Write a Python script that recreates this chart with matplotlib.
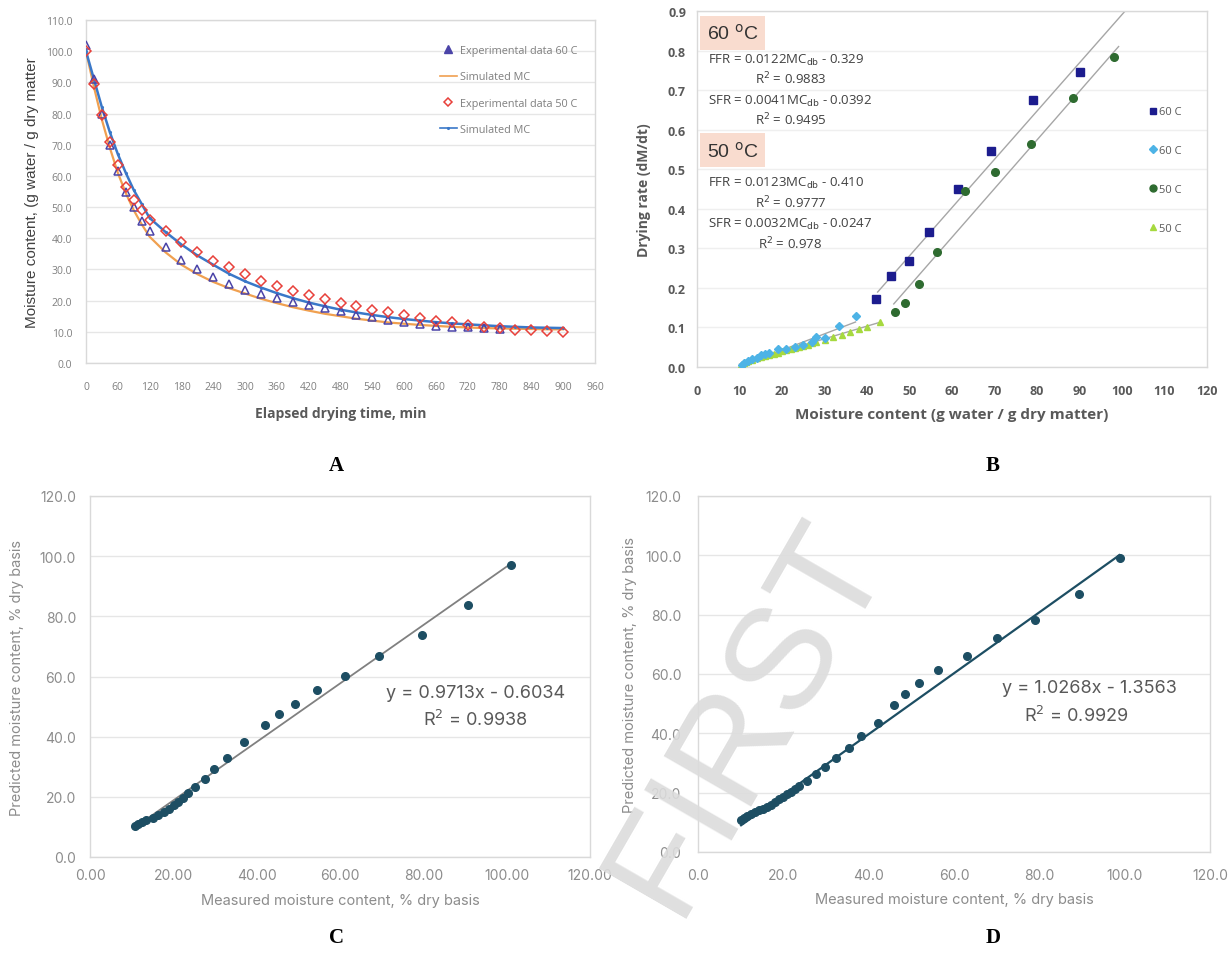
import matplotlib
matplotlib.use('Agg')
import matplotlib.pyplot as plt
from matplotlib import font_manager
from matplotlib.lines import Line2D
import numpy as np

avail = set(font_manager.get_font_names())
def pick(*names):
    for n in names:
        if n in avail:
            return n
    return 'DejaVu Sans'

NARROW = pick('Liberation Sans Narrow', 'Open Sans', 'Liberation Sans')
GEO = pick('Inter', 'Roboto', 'Liberation Sans')
SERIF = pick('Liberation Serif', 'DejaVu Serif')
ARIAL = pick('Liberation Sans', 'DejaVu Sans')

# ---------------- Panel A data ----------------
time_exp = [0, 15, 30, 45, 60, 75, 90, 105, 120, 150, 180, 210, 240, 270, 300, 330, 360, 390,
            420, 450, 480, 510, 540, 570, 600, 630, 660, 690, 720, 750, 780, 810, 840, 870, 900]
mc_exp_60 = [102, 91.2, 80, 70, 61.6, 55, 50, 45.4, 42.2, 37.1, 33, 30, 27.5, 25.4, 23.5, 22.2,
             21, 19.7, 18.6, 17.5, 16.7, 15.4, 14.6, 13.7, 13, 12.4, 11.9, 11.6, 11.4, 11.1, 10.9]
mc_exp_50 = [100, 89.6, 79.5, 71, 63.5, 56.6, 52.3, 49, 46, 42.2, 38.7, 35.6, 32.8, 30.7, 28.4,
             26.3, 24.7, 23.1, 21.7, 20.4, 19.4, 18.3, 17.0, 16.2, 15.3, 14.4, 13.5, 13, 12.1,
             11.6, 11.1, 10.6, 10.5, 10.3, 10.1]
mc_sim_60 = [100, 88.5, 78, 69, 61, 54.5, 49, 44.5, 40.5, 35.5, 31.5, 28.5, 26, 24, 22.3, 20.6,
             19.2, 17.9, 16.8, 15.8, 15.0, 14.2, 13.6, 13.0, 12.6, 12.2, 11.9, 11.6, 11.4, 11.2,
             11.1, 11.0, 10.9, 10.8, 10.8]
mc_sim_50 = [100, 91, 82, 74, 67, 61, 55.5, 51, 46.5, 42, 38, 34.5, 31.5, 28.6, 26.2, 24.2, 22.4,
             20.8, 19.4, 18.2, 17.1, 16.2, 15.4, 14.7, 14.1, 13.6, 13.1, 12.7, 12.4, 12.1, 11.8,
             11.6, 11.4, 11.3, 11.2]

# ---------------- Panel B data ----------------
mc60_ffr = [42.2, 45.7, 49.8, 54.7, 61.3, 69.2, 79.1, 90.2]
dr60_ffr = [0.172, 0.231, 0.267, 0.342, 0.450, 0.547, 0.676, 0.747]
mc60_sfr = [10.5, 11, 12, 13, 14, 15, 16, 17, 19, 21, 23, 25, 27, 28, 30, 33.5, 37.3]
dr60_sfr = [0.004, 0.010, 0.015, 0.020, 0.024, 0.030, 0.034, 0.036, 0.046, 0.045, 0.050,
            0.056, 0.064, 0.075, 0.074, 0.104, 0.130]
mc50_ffr = [46.7, 48.9, 52.3, 56.5, 63.1, 70.1, 78.5, 88.4, 98.2]
dr50_ffr = [0.138, 0.162, 0.210, 0.290, 0.444, 0.494, 0.564, 0.679, 0.783]
mc50_sfr = [10, 10.5, 11, 11.5, 12, 13, 14, 15, 16, 17, 18, 19, 20, 21, 22, 23, 24, 25, 26, 27,
            28, 30, 32, 34, 36, 38, 40, 43]
dr50_sfr = [0.0, 0.005, 0.010, 0.012, 0.015, 0.018, 0.022, 0.025, 0.028, 0.030, 0.033, 0.036,
            0.040, 0.042, 0.045, 0.048, 0.050, 0.053, 0.056, 0.060, 0.063, 0.068, 0.075, 0.082,
            0.088, 0.095, 0.100, 0.115]
# trend line coefficients (slope, intercept, x-start, x-end)
fit60_ffr = [0.0122, -0.329, 42.5, 100.7]
fit60_sfr = [0.0041, -0.0392, 10.0, 37.3]
fit50_ffr = [0.0123, -0.410, 46.3, 99.2]
fit50_sfr = [0.0032, -0.0247, 10.0, 43.0]

# ---------------- Panel C data ----------------
meas_c = [10.7, 11.4, 12.4, 13.5, 15.0, 16.4, 17.8, 19.0, 20.2, 21.1, 22.3, 23.5, 25.2, 27.6,
          29.7, 32.9, 36.9, 41.9, 45.4, 49.3, 54.5, 61.1, 69.4, 79.7, 90.7, 101.1]
pred_c = [10.3, 10.9, 11.6, 12.2, 13.0, 13.9, 15.0, 16.1, 17.2, 18.4, 19.5, 21.2, 23.4, 26.0,
          29.4, 33.0, 38.1, 43.9, 47.7, 51.0, 55.5, 60.3, 66.8, 73.9, 83.7, 97.0]
fit_c = [0.9713, -0.6034]

# ---------------- Panel D data ----------------
meas_d = [10.1, 10.7, 11.5, 12.4, 13.4, 14.3, 15.2, 16.2, 17.1, 18.1, 19.0, 20.0, 20.9, 21.8,
          22.8, 23.7, 25.6, 27.7, 29.8, 32.4, 35.3, 38.3, 42.1, 46.0, 48.4, 51.8, 56.2, 63.0,
          70.1, 79.0, 89.3, 98.8]
pred_d = [10.7, 11.5, 12.1, 12.7, 13.4, 14.0, 14.5, 15.2, 15.9, 16.7, 17.7, 18.5, 19.4, 20.3,
          21.1, 22.3, 24.0, 26.3, 28.6, 31.8, 35.0, 39.2, 43.6, 49.6, 53.4, 56.9, 61.3, 65.9,
          72.2, 78.2, 87.1, 99.0]
fit_d = [1.0268, -1.3563]

W, H = 1232, 954
fig = plt.figure(figsize=(W / 100, H / 100), dpi=100)
fig.patch.set_facecolor('white')

def ax_px(l, t, r, b):
    return fig.add_axes([l / W, 1 - b / H, (r - l) / W, (b - t) / H])

FRAME = '#d9d9d9'
GRID = '#e6e6e6'

def style(ax, tc, fs, fam, weight='normal', xpad=6, ypad=6):
    for s in ax.spines.values():
        s.set_color(FRAME)
        s.set_linewidth(1.0)
    ax.tick_params(length=0, labelsize=fs, labelcolor=tc)
    ax.tick_params(axis='x', pad=xpad)
    ax.tick_params(axis='y', pad=ypad)
    for lab in ax.get_xticklabels() + ax.get_yticklabels():
        lab.set_fontfamily(fam)
        lab.set_fontweight(weight)
    ax.grid(axis='y', color=GRID, linewidth=1.0)
    ax.set_axisbelow(True)

# ================= Panel A =================
axA = ax_px(86, 21, 595, 364)
axA.plot(time_exp, mc_sim_60, color='#f0a050', lw=1.6, zorder=3)
axA.plot(time_exp, mc_sim_50, color='#3a78c8', lw=1.8, marker='.', ms=2.5, zorder=3)
axA.plot(time_exp[:len(mc_exp_60)], mc_exp_60, linestyle='none', marker='^', ms=6,
         mfc='none', mec='#4b44a8', mew=1.1, zorder=4)
axA.plot(time_exp, mc_exp_50, linestyle='none', marker='D', ms=5,
         mfc='none', mec='#e8403a', mew=1.1, zorder=4)
axA.set_xlim(0, 960)
axA.set_ylim(0, 110)
axA.set_xticks(np.arange(0, 961, 60))
axA.set_yticks(np.arange(0, 111, 10))
axA.yaxis.set_major_formatter(matplotlib.ticker.FormatStrFormatter('%.1f'))
style(axA, '#7f7f7f', 7.5, NARROW, xpad=13, ypad=10)
axA.set_xlabel('Elapsed drying time, min', fontsize=10, color='#595959', fontfamily=NARROW,
               fontweight='bold', labelpad=10)
axA.set_ylabel('Moisture content, (g water / g dry matter', fontsize=11, color='#404040',
               fontfamily=ARIAL, labelpad=5)
hA = [Line2D([], [], ls='none', marker='^', ms=5.5, mfc='#4b44a8', mec='#4b44a8'),
      Line2D([], [], color='#f0a050', lw=1.2),
      Line2D([], [], ls='none', marker='D', ms=4.5, mfc='none', mec='#e8403a', mew=1.1),
      Line2D([], [], color='#3a78c8', lw=1.2, marker='.', ms=2.5)]
legA = axA.legend(hA, ['Experimental data 60 C', 'Simulated MC', 'Experimental data 50 C',
                       'Simulated MC'], loc='upper right', bbox_to_anchor=(0.985, 0.955),
                  frameon=False, handlelength=1.6, handletextpad=0.3,
                  labelspacing=1.4, prop={'family': NARROW, 'size': 7.8})
for t in legA.get_texts():
    t.set_color('#7f7f7f')

# ================= Panel B =================
axB = ax_px(697, 12, 1207, 368)
for f in (fit60_ffr, fit60_sfr, fit50_ffr, fit50_sfr):
    xs = np.array([f[2], f[3]])
    axB.plot(xs, f[0] * xs + f[1], color='#a6a6a6', lw=1.0, zorder=2)
axB.plot(mc50_sfr, dr50_sfr, ls='none', marker='^', ms=5, color='#a6d93f', zorder=3)
axB.plot(mc60_sfr, dr60_sfr, ls='none', marker='D', ms=4.5, color='#4db3e6', zorder=3)
axB.plot(mc60_ffr, dr60_ffr, ls='none', marker='s', ms=5.5, color='#1c1c8e', zorder=4)
axB.plot(mc50_ffr, dr50_ffr, ls='none', marker='o', ms=5.5, color='#2e6b30', zorder=4)
axB.set_xlim(0, 120)
axB.set_ylim(0, 0.9)
axB.set_xticks(np.arange(0, 121, 10))
axB.set_yticks(np.arange(0, 0.91, 0.1))
axB.yaxis.set_major_formatter(matplotlib.ticker.FormatStrFormatter('%.1f'))
style(axB, '#595959', 9, NARROW, 'bold', xpad=12.5, ypad=8)
axB.grid(axis='y', color='#efefef', linewidth=1.0)
axB.set_xlabel('Moisture content (g water / g dry matter)', fontsize=11, color='#595959',
               fontfamily=NARROW, fontweight='bold', labelpad=7)
axB.set_ylabel('Drying rate (dM/dt)', fontsize=10, color='#595959', fontfamily=NARROW,
               fontweight='bold', labelpad=12)
hB = [Line2D([], [], ls='none', marker='s', ms=5, color='#1c1c8e'),
      Line2D([], [], ls='none', marker='D', ms=4, color='#4db3e6'),
      Line2D([], [], ls='none', marker='o', ms=5, color='#2e6b30'),
      Line2D([], [], ls='none', marker='^', ms=5, color='#a6d93f')]
legB = axB.legend(hB, ['60 C', '60 C', '50 C', '50 C'], loc='upper left',
                  bbox_to_anchor=(0.867, 0.76), frameon=False, handlelength=0.6,
                  handletextpad=0.3, labelspacing=2.5, prop={'family': NARROW, 'size': 8})
for t in legB.get_texts():
    t.set_color('#595959')

boxkw = dict(boxstyle='square,pad=0.35', fc='#f9dccf', ec='none')
eqc = '#404040'
EQFS = 9.5
axB.text(2.3, 0.845, '60 $^{\\mathrm{o}}$C', fontsize=14, family=ARIAL, color='#333333',
         va='center', ha='left', bbox=boxkw)
axB.text(2.6, 0.778, 'FFR = 0.0122MC$_{\\mathrm{db}}$ - 0.329', fontsize=EQFS, family=NARROW,
         color=eqc, va='center', ha='left')
axB.text(22.0, 0.730, 'R$^{2}$ = 0.9883', fontsize=EQFS, family=NARROW, color=eqc,
         va='center', ha='center')
axB.text(2.6, 0.675, 'SFR = 0.0041MC$_{\\mathrm{db}}$ - 0.0392', fontsize=EQFS, family=NARROW,
         color=eqc, va='center', ha='left')
axB.text(22.0, 0.627, 'R$^{2}$ = 0.9495', fontsize=EQFS, family=NARROW, color=eqc,
         va='center', ha='center')
axB.text(2.3, 0.548, '50 $^{\\mathrm{o}}$C', fontsize=14, family=ARIAL, color='#333333',
         va='center', ha='left', bbox=boxkw)
axB.text(2.6, 0.467, 'FFR = 0.0123MC$_{\\mathrm{db}}$ - 0.410', fontsize=EQFS, family=NARROW,
         color=eqc, va='center', ha='left')
axB.text(22.0, 0.418, 'R$^{2}$ = 0.9777', fontsize=EQFS, family=NARROW, color=eqc,
         va='center', ha='center')
axB.text(2.6, 0.362, 'SFR = 0.0032MC$_{\\mathrm{db}}$ - 0.0247', fontsize=EQFS, family=NARROW,
         color=eqc, va='center', ha='left')
axB.text(22.0, 0.313, 'R$^{2}$ = 0.978', fontsize=EQFS, family=NARROW, color=eqc,
         va='center', ha='center')

# ================= Panel C =================
axC = ax_px(90, 497, 590, 858)
xc = np.array([min(meas_c), max(meas_c)])
axC.plot(xc, fit_c[0] * xc + fit_c[1], color='#808080', lw=1.3, zorder=2)
axC.plot(meas_c, pred_c, ls='none', marker='o', ms=5.5, color='#1d4e63', zorder=3)
axC.set_xlim(0, 120)
axC.set_ylim(0, 120)
axC.set_xticks(np.arange(0, 121, 20))
axC.set_yticks(np.arange(0, 121, 20))
axC.xaxis.set_major_formatter(matplotlib.ticker.FormatStrFormatter('%.2f'))
axC.yaxis.set_major_formatter(matplotlib.ticker.FormatStrFormatter('%.1f'))
style(axC, '#8c8c8c', 10, GEO, xpad=8, ypad=10)
axC.set_xlabel('Measured moisture content, % dry basis', fontsize=10.5, color='#8c8c8c',
               fontfamily=GEO, labelpad=8)
axC.set_ylabel('Predicted moisture content, % dry basis', fontsize=10.5, color='#8c8c8c',
               fontfamily=GEO, labelpad=11)
axC.text(114, 54.8, 'y = 0.9713x - 0.6034', fontsize=13, family=GEO, color='#595959',
         ha='right', va='center')
axC.text(105, 45.9, 'R$^{2}$ = 0.9938', fontsize=13, family=GEO, color='#595959',
         ha='right', va='center')

# ================= Panel D =================
axD = ax_px(698, 497, 1210, 853)
xd = np.array([min(meas_d), max(meas_d)])
axD.plot(xd, fit_d[0] * xd + fit_d[1], color='#1d4e63', lw=1.6, zorder=2)
axD.plot(meas_d, pred_d, ls='none', marker='o', ms=5.5, color='#1d4e63', zorder=3)
axD.set_xlim(0, 120)
axD.set_ylim(0, 120)
axD.set_xticks(np.arange(0, 121, 20))
axD.set_yticks(np.arange(0, 121, 20))
axD.xaxis.set_major_formatter(matplotlib.ticker.FormatStrFormatter('%.1f'))
axD.yaxis.set_major_formatter(matplotlib.ticker.FormatStrFormatter('%.1f'))
style(axD, '#8c8c8c', 10, GEO, xpad=11.5, ypad=12)
axD.set_xlabel('Measured moisture content, % dry basis', fontsize=10.5, color='#8c8c8c',
               fontfamily=GEO, labelpad=7.5)
axD.set_ylabel('Predicted moisture content, % dry basis', fontsize=10.5, color='#8c8c8c',
               fontfamily=GEO, labelpad=6)
axD.text(112.3, 55.3, 'y = 1.0268x - 1.3563', fontsize=13, family=GEO, color='#595959',
         ha='right', va='center')
axD.text(101, 46.2, 'R$^{2}$ = 0.9929', fontsize=13, family=GEO, color='#595959',
         ha='right', va='center')

# panel letters
for lab, (px, py) in {'A': (336, 466), 'B': (993, 466), 'C': (336, 938), 'D': (993, 938)}.items():
    fig.text(px / W, 1 - py / H, lab, fontsize=15, fontweight='bold', family=SERIF,
             ha='center', va='center')

# watermark
fig.text(748 / W, 1 - 717 / H, 'FIRST', fontsize=105, family=ARIAL, color='#dcdcdc',
         rotation=60, rotation_mode='anchor', ha='center', va='center', zorder=10, alpha=0.9)

fig.savefig('out.png', dpi=100, facecolor='white')
